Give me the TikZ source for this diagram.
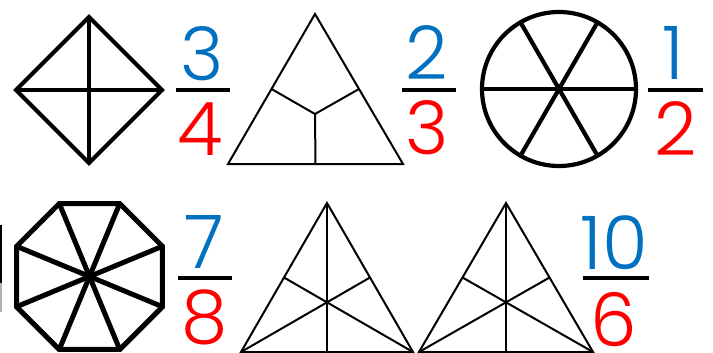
\documentclass[tikz,border=0pt]{standalone}
\usepackage{fontspec}
\setmainfont{Poppins Light}
\usetikzlibrary{calc}
\definecolor{numblue}{HTML}{0070C0}
\definecolor{denred}{HTML}{FF0000}
\tikzset{
  heavy/.style={line width=4.2pt, line join=miter},
  octo/.style={line width=5pt, line join=miter},
  thin/.style={line width=2pt, line join=miter},
  barline/.style={line width=4pt},
  num/.style={text=numblue, font=\fontsize{74}{74}\selectfont, inner sep=0pt, text depth=0pt, anchor=base},
  den/.style={text=denred, font=\fontsize{74}{74}\selectfont, inner sep=0pt, text depth=0pt, anchor=base},
}
\begin{document}
\begin{tikzpicture}[x=1pt,y=-1pt]
\useasboundingbox (0,0) rectangle (713,353);
\fill[white] (0,0) rectangle (713,353);
% left edge artifact
\fill[black] (0,225) rectangle (2,283);
\fill[gray!60] (0,283) rectangle (1.5,312);

% ---- diamond (4 parts)
\coordinate (dL) at (16,90); \coordinate (dT) at (89,17);
\coordinate (dR) at (162,90); \coordinate (dB) at (89,163);
\draw[heavy] (dL) -- (dT) -- (dR) -- (dB) -- cycle;
\draw[heavy] (dL) -- (dR);
\draw[heavy] (dT) -- (dB);

% ---- fraction 3/4
\node[num] (n1) at (202,81) {3};
\coordinate (b1a) at (176,90); \coordinate (b1b) at (230,90);
\draw[barline] (b1a) -- (b1b);
\node[den] (d1) at (200,155) {4};

% ---- triangle (3 parts)
\coordinate (tA) at (315,14); \coordinate (tL) at (228,164); \coordinate (tR) at (403,164);
\coordinate (tC) at (315,114);
\draw[thin] (tA) -- (tL) -- (tR) -- cycle;
\draw[thin] (tC) -- ($(tA)!0.5!(tL)$);
\draw[thin] (tC) -- ($(tA)!0.5!(tR)$);
\draw[thin] (tC) -- ($(tL)!0.5!(tR)$);

% ---- fraction 2/3
\node[num] (n2) at (427,80) {2};
\coordinate (b2a) at (402,90); \coordinate (b2b) at (456,90);
\draw[barline] (b2a) -- (b2b);
\node[den] (d2) at (427,154) {3};

% ---- circle (6 parts)
\coordinate (cC) at (559,89);
\draw[heavy] (cC) circle[radius=77];
\foreach \a in {0,60,120} {
  \draw[heavy] ($(cC)+(\a:77)$) -- ($(cC)+(\a+180:77)$);
}

% ---- fraction 1/2
\node[num] (n3) at (673,80) {1};
\coordinate (b3a) at (648,90); \coordinate (b3b) at (703,90);
\draw[barline] (b3a) -- (b3b);
\node[den] (d3) at (676,155) {2};

% ---- octagon (8 parts)
\coordinate (oC) at (89.5,276.5);
\foreach \k in {0,...,7} {
  \coordinate (o\k) at ($(oC)+({22.5+45*\k}:79)$);
}
\draw[octo] (o0) -- (o1) -- (o2) -- (o3) -- (o4) -- (o5) -- (o6) -- (o7) -- cycle;
\foreach \k in {0,...,7} { \draw[octo] (oC) -- (o\k); }

% ---- fraction 7/8
\node[num] (n4) at (204,268) {7};
\coordinate (b4a) at (178,278); \coordinate (b4b) at (232,278);
\draw[barline] (b4a) -- (b4b);
\node[den] (d4) at (205,343) {8};

% ---- triangle with medians (left)
\coordinate (uA) at (327,203); \coordinate (uL) at (241,352); \coordinate (uR) at (413,352);
\draw[thin] (uA) -- (uL) -- (uR) -- cycle;
\draw[thin] (uA) -- ($(uL)!0.5!(uR)$);
\draw[thin] (uL) -- ($(uA)!0.5!(uR)$);
\draw[thin] (uR) -- ($(uA)!0.5!(uL)$);

% ---- triangle with medians (right)
\coordinate (vA) at (506,203); \coordinate (vL) at (419,352); \coordinate (vR) at (593,352);
\draw[thin] (vA) -- (vL) -- (vR) -- cycle;
\draw[thin] (vA) -- ($(vL)!0.5!(vR)$);
\draw[thin] (vL) -- ($(vA)!0.5!(vR)$);
\draw[thin] (vR) -- ($(vA)!0.5!(vL)$);

% ---- fraction 10/6
\node[num] (n5) at (614,269) {10};
\coordinate (b5a) at (583,278); \coordinate (b5b) at (649,278);
\draw[barline] (b5a) -- (b5b);
\node[den] (d5) at (614,346) {6};
\end{tikzpicture}
\end{document}
